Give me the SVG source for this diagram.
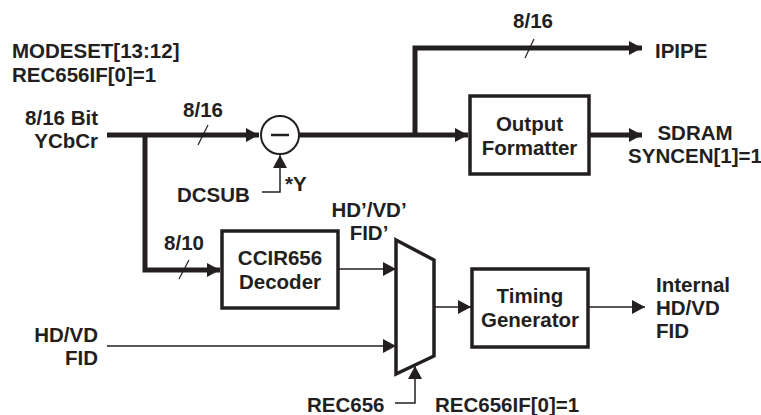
<svg xmlns="http://www.w3.org/2000/svg" width="761" height="415" viewBox="0 0 761 415">
<defs>
<style>
text{font-family:"Liberation Sans",Arial,sans-serif;font-weight:bold;font-size:20.5px;fill:#231f20}
.m{text-anchor:middle}
.e{text-anchor:end}
.box{fill:#fff;stroke:#231f20;stroke-width:3.5}
.thick{fill:none;stroke:#231f20;stroke-width:5}
.thin{fill:none;stroke:#231f20;stroke-width:1.5}
.sl{fill:none;stroke:#231f20;stroke-width:1.2}
</style>
<marker id="ah" markerUnits="userSpaceOnUse" markerWidth="14" markerHeight="14" refX="13" refY="7" orient="auto">
<path d="M0,0 L13,7 L0,14 Z" fill="#231f20"/>
</marker>
</defs>
<rect width="761" height="415" fill="#fff"/>

<g id="connectors">
<path class="thick" d="M107,135 H259" marker-end="url(#ah)"/>
<path class="thick" d="M299,135 H468" marker-end="url(#ah)"/>
<path class="thick" d="M415,135 V48 H642" marker-end="url(#ah)"/>
<path class="thick" d="M589,135 H642" marker-end="url(#ah)"/>
<path class="thick" d="M145,135 V270 H220" marker-end="url(#ah)"/>
<path class="thin" d="M262,192 H280 V155" marker-end="url(#ah)"/>
<path class="thin" d="M339,269 H396" marker-end="url(#ah)"/>
<path class="thin" d="M107,346 H396" marker-end="url(#ah)"/>
<path class="thin" d="M434,307 H471" marker-end="url(#ah)"/>
<path class="thin" d="M588,307 H645" marker-end="url(#ah)"/>
<path class="thin" d="M395,403 H415 V366" marker-end="url(#ah)"/>
<path class="sl" d="M198,145 L208,125"/>
<path class="sl" d="M525,58 L534,39"/>
<path class="sl" d="M179,279 L189,260"/>
</g>

<g id="subtractor">
<circle cx="280" cy="135" r="19" fill="#fff" stroke="#231f20" stroke-width="2"/>
<path d="M271,135 H289" stroke="#231f20" stroke-width="2.5"/>
</g>

<g id="output-formatter">
<rect class="box" x="470" y="96" width="119" height="78"/>
<text class="m" x="529.5" y="131">Output</text>
<text class="m" x="529.5" y="155">Formatter</text>
</g>

<g id="ccir656-decoder">
<rect class="box" x="222" y="231" width="116" height="77"/>
<text class="m" x="280" y="265">CCIR656</text>
<text class="m" x="280" y="289">Decoder</text>
</g>

<g id="mux">
<path class="box" d="M396,240 L434,260 L434,356 L396,374 Z" stroke-linejoin="miter"/>
</g>

<g id="timing-generator">
<rect class="box" x="472" y="269" width="116" height="78"/>
<text class="m" x="530" y="303">Timing</text>
<text class="m" x="530" y="327">Generator</text>
</g>

<g id="labels">
<text x="12" y="58">MODESET[13:12]</text>
<text x="12" y="82">REC656IF[0]=1</text>
<text class="e" x="98" y="125">8/16 Bit</text>
<text class="e" x="98" y="148">YCbCr</text>
<text class="m" x="203" y="117">8/16</text>
<text class="m" x="533" y="28">8/16</text>
<text class="m" x="184" y="250">8/10</text>
<text x="177" y="202">DCSUB</text>
<text x="285" y="191">*Y</text>
<text x="655" y="58">IPIPE</text>
<text class="m" x="695" y="140">SDRAM</text>
<text class="m" x="695" y="163">SYNCEN[1]=1</text>
<text class="m" x="369" y="217">HD’/VD’</text>
<text class="m" x="369" y="240">FID’</text>
<text class="e" x="98" y="342">HD/VD</text>
<text class="e" x="98" y="365">FID</text>
<text x="656" y="292">Internal</text>
<text x="656" y="315">HD/VD</text>
<text x="656" y="338">FID</text>
<text x="307" y="412">REC656</text>
<text x="435" y="412">REC656IF[0]=1</text>
</g>
</svg>
